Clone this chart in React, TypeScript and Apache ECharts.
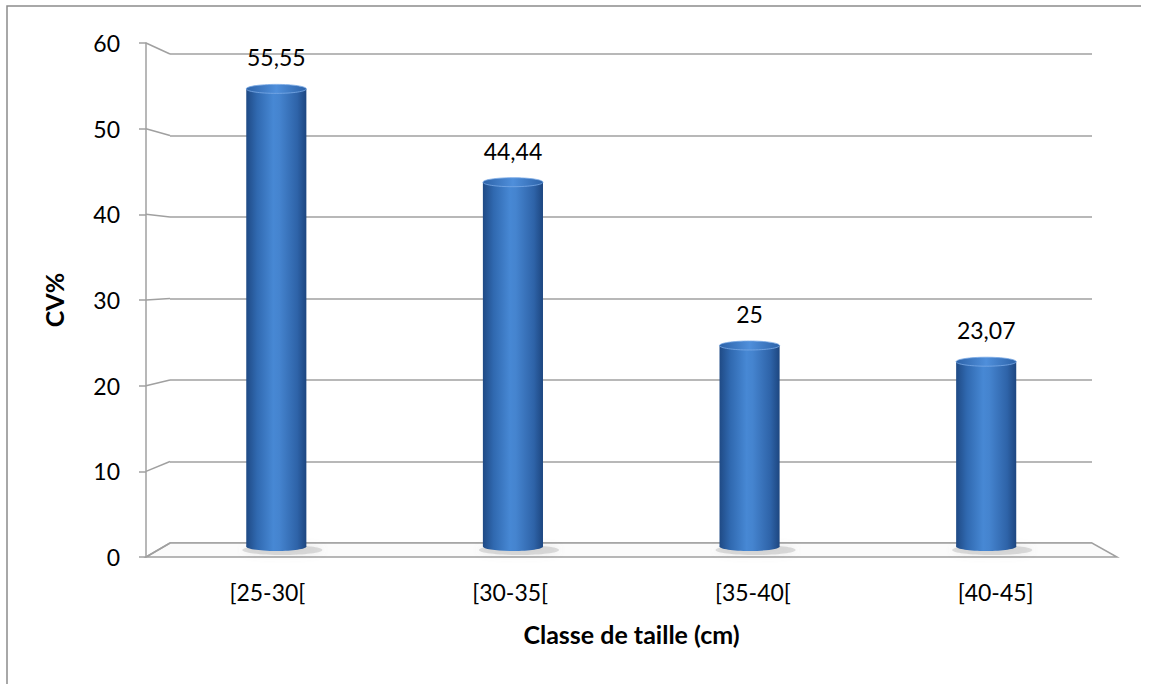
import React, { useEffect, useRef } from "react";
import * as echarts from "echarts";

// Size classes and coefficient of variation (%) for each class
const categories = ["[25-30[", "[30-35[", "[35-40[", "[40-45]"];
const cvValues = [55.55, 44.44, 25, 23.07];
const yTicks = [0, 10, 20, 30, 40, 50, 60];

const W = 1151;
const H = 684;

// Pseudo-3D layout: front plane (axis + labels), back wall (gridlines), mid plane (cylinders)
const FRONT = { left: 146, right: 1117, top: 43, bottom: 557 };
const BACK = { left: 170, right: 1092, top: 54, bottom: 543 };
const MID = { left: 158, right: 1104.5, top: 47, bottom: 551 };

const FONT = "Lato, 'Open Sans', sans-serif";
const GRID_GREY = "#a0a0a0";

const fmt = (v: number) => String(v).replace(".", ",");

const gridOf = (r: { left: number; right: number; top: number; bottom: number }) => ({
  left: r.left,
  top: r.top,
  width: r.right - r.left,
  height: r.bottom - r.top,
  containLabel: false,
});

const bodyGradient = () =>
  new echarts.graphic.LinearGradient(0, 0, 1, 0, [
    { offset: 0, color: "#1f4a85" },
    { offset: 0.18, color: "#3069b0" },
    { offset: 0.45, color: "#4788d4" },
    { offset: 0.55, color: "#4584cf" },
    { offset: 0.85, color: "#2e63a8" },
    { offset: 1, color: "#1d4680" },
  ]);

const capGradient = () =>
  new echarts.graphic.LinearGradient(0, 0, 1, 0, [
    { offset: 0, color: "#2d63a9" },
    { offset: 0.5, color: "#4f8fdb" },
    { offset: 1, color: "#2d63a9" },
  ]);

export default function App() {
  const ref = useRef<HTMLDivElement>(null);

  useEffect(() => {
    document.body.style.margin = "0";
    if (!ref.current) return;
    const chart = echarts.init(ref.current, null, { renderer: "svg" });

    const yBase = {
      type: "value" as const,
      min: 0,
      max: 60,
      interval: 10,
    };

    chart.setOption({
      animation: false,
      backgroundColor: "#ffffff",
      grid: [gridOf(FRONT), gridOf(BACK), gridOf(MID)],
      xAxis: [
        {
          type: "category",
          gridIndex: 0,
          data: categories,
          axisLine: { show: false },
          axisTick: { show: false },
          axisLabel: { color: "#000", fontFamily: FONT, fontSize: 23, margin: 23 },
          name: "Classe de taille (cm)",
          nameLocation: "middle",
          nameGap: 64,
          nameTextStyle: { color: "#000", fontFamily: FONT, fontSize: 25, fontWeight: "bold" },
        },
        { type: "category", gridIndex: 1, data: categories, show: false },
        { type: "category", gridIndex: 2, data: categories, show: false },
      ],
      yAxis: [
        {
          ...yBase,
          gridIndex: 0,
          axisLine: { show: true, lineStyle: { color: GRID_GREY, width: 1.5 } },
          axisTick: { show: true, length: 7, lineStyle: { color: GRID_GREY, width: 1.5 } },
          axisLabel: { color: "#000", fontFamily: FONT, fontSize: 23, margin: 26 },
          splitLine: { show: false },
          name: "CV%",
          nameLocation: "middle",
          nameGap: 80,
          nameRotate: 90,
          nameTextStyle: { color: "#000", fontFamily: FONT, fontSize: 25, fontWeight: "bold" },
        },
        {
          ...yBase,
          gridIndex: 1,
          axisLine: { show: false },
          axisTick: { show: false },
          axisLabel: { show: false },
          splitLine: { show: true, lineStyle: { color: GRID_GREY, width: 1.5 } },
        },
        { ...yBase, gridIndex: 2, show: false, splitLine: { show: false } },
      ],
      series: [
        {
          type: "custom",
          xAxisIndex: 2,
          yAxisIndex: 2,
          z: 5,
          data: cvValues.map((v, i) => [i, v]),
          encode: { x: 0, y: 1 },
          renderItem: (params: any, api: any) => {
            const idx = api.value(0);
            const v = api.value(1);
            const top = api.coord([idx, v]);
            const base = api.coord([idx, 0]);
            const w = api.size([1, 0])[0] * 0.254;
            const cx = top[0];
            const rx = w / 2;
            const ry = 4.5;
            return {
              type: "group",
              children: [
                {
                  type: "ellipse",
                  shape: { cx: cx + 6, cy: base[1] - 1, rx: rx + 10, ry: 5 },
                  style: {
                    fill: "rgba(150,150,150,0.3)",
                    shadowBlur: 8,
                    shadowColor: "rgba(130,130,130,0.45)",
                  },
                },
                {
                  type: "ellipse",
                  shape: { cx, cy: base[1] - ry, rx, ry },
                  style: { fill: bodyGradient() },
                },
                {
                  type: "rect",
                  shape: { x: cx - rx, y: top[1] + ry, width: w, height: base[1] - top[1] - 2 * ry },
                  style: { fill: bodyGradient() },
                },
                {
                  type: "ellipse",
                  shape: { cx, cy: top[1] + ry, rx, ry },
                  style: { fill: capGradient(), stroke: "#7aaae6", lineWidth: 0.8 },
                },
                {
                  type: "text",
                  x: cx,
                  y: top[1] - 27,
                  style: {
                    text: fmt(v),
                    fill: "#000",
                    fontFamily: FONT,
                    fontSize: 23,
                    align: "center",
                    verticalAlign: "middle",
                  },
                },
              ],
            };
          },
        },
      ],
    });

    // Perspective connectors from each front tick to its back-wall gridline, plus the floor slab
    const connectors = yTicks.map((t) => {
      const yf = chart.convertToPixel({ yAxisIndex: 0 }, t) as number;
      const yb = chart.convertToPixel({ yAxisIndex: 1 }, t) as number;
      return {
        type: "line",
        z: 1,
        shape: { x1: FRONT.left, y1: yf, x2: BACK.left, y2: yb },
        style: { stroke: GRID_GREY, lineWidth: 1.5 },
      };
    });
    const yf0 = chart.convertToPixel({ yAxisIndex: 0 }, 0) as number;
    const yb0 = chart.convertToPixel({ yAxisIndex: 1 }, 0) as number;

    chart.setOption({
      graphic: [
        {
          type: "polyline",
          z: 0,
          shape: { points: [[7, H + 10], [7, 6], [1141, 6]] },
          style: { stroke: "#8c8c8c", lineWidth: 1.5, fill: "none" },
        },
        {
          type: "polygon",
          z: 1,
          shape: {
            points: [
              [FRONT.left, yf0],
              [FRONT.right, yf0],
              [BACK.right, yb0],
              [BACK.left, yb0],
            ],
          },
          style: { fill: "#fbfbfb", stroke: GRID_GREY, lineWidth: 1.5 },
        },
        ...connectors,
      ],
    });

    return () => chart.dispose();
  }, []);

  return <div ref={ref} style={{ width: W, height: H }} />;
}
